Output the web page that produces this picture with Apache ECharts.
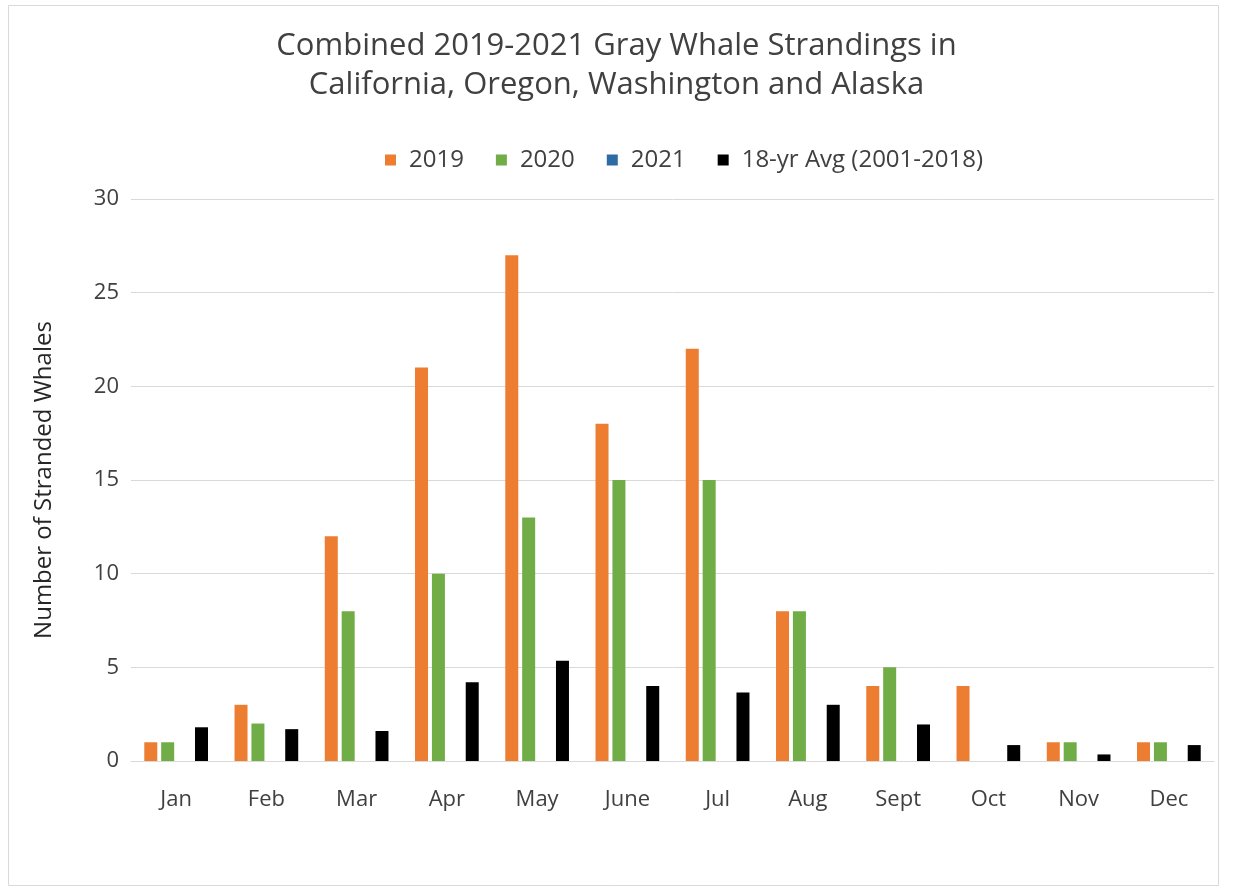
<!DOCTYPE html>
<html>
<head>
<meta charset="utf-8">
<script src="https://cdn.jsdelivr.net/npm/echarts@6/dist/echarts.min.js"></script>
<style>
  html, body { margin: 0; padding: 0; background: #fff; }
  #chart { width: 1233px; height: 890px; }
</style>
</head>
<body>
<div id="chart"></div>
<script>
// months along the x axis
var months = ["Jan", "Feb", "Mar", "Apr", "May", "June", "Jul", "Aug", "Sept", "Oct", "Nov", "Dec"];
// strandings per month
var y2019 = [1, 3, 12, 21, 27, 18, 22, 8, 4, 4, 1, 1];
var y2020 = [1, 2, 8, 10, 13, 15, 15, 8, 5, 0, 1, 1];
var y2021 = [null, null, null, null, null, null, null, null, null, null, null, null];
var avg18 = [1.8, 1.7, 1.6, 4.2, 5.35, 4.0, 3.65, 3.0, 1.95, 0.85, 0.35, 0.85];

var font = "'Open Sans', 'Liberation Sans', sans-serif";

var chart = echarts.init(document.getElementById("chart"));

function bar(name, data, color) {
  return {
    name: name,
    type: "bar",
    data: data,
    barWidth: 13,
    barGap: "30%",
    itemStyle: { color: color },
  };
}

chart.setOption({
  animation: false,
  title: {
    text: "Combined 2019-2021 Gray Whale Strandings in\nCalifornia, Oregon, Washington and Alaska",
    left: "center",
    top: 22,
    textStyle: {
      fontFamily: font,
      fontSize: 31,
      fontWeight: "normal",
      color: "#404040",
      lineHeight: 39,
    },
  },
  legend: {
    top: 143,
    left: 380,
    itemWidth: 11,
    itemHeight: 11,
    itemGap: 32,
    icon: "rect",
    textStyle: { fontFamily: font, fontSize: 24, color: "#404040", padding: [0, 0, 0, 8] },
    data: ["2019", "2020", "2021", "18-yr Avg (2001-2018)"],
  },
  grid: { left: 131, right: 19, top: 199, bottom: 129 },
  xAxis: {
    type: "category",
    data: months,
    axisLine: { lineStyle: { color: "#d9d9d9" } },
    axisTick: { show: false },
    axisLabel: { fontFamily: font, fontSize: 22, color: "#404040", margin: 28 },
  },
  yAxis: {
    type: "value",
    min: 0,
    max: 30,
    interval: 5,
    name: "Number of Stranded Whales",
    nameLocation: "middle",
    nameGap: 75,
    nameTextStyle: { fontFamily: font, fontSize: 24, color: "#262626" },
    axisLine: { show: false },
    axisTick: { show: false },
    axisLabel: { fontFamily: font, fontSize: 22, color: "#404040", margin: 12 },
    splitLine: { lineStyle: { color: "#d9d9d9" } },
  },
  graphic: [
    {
      type: "rect",
      shape: { x: 8.5, y: 5.5, width: 1210, height: 880 },
      style: { fill: "none", stroke: "#d9d9d9", lineWidth: 1 },
      silent: true,
    },
  ],
  series: [
    bar("2019", y2019, "#ED7D31"),
    bar("2020", y2020, "#70AD47"),
    bar("2021", y2021, "#2E6DA4"),
    bar("18-yr Avg (2001-2018)", avg18, "#000000"),
  ],
});
</script>
</body>
</html>
